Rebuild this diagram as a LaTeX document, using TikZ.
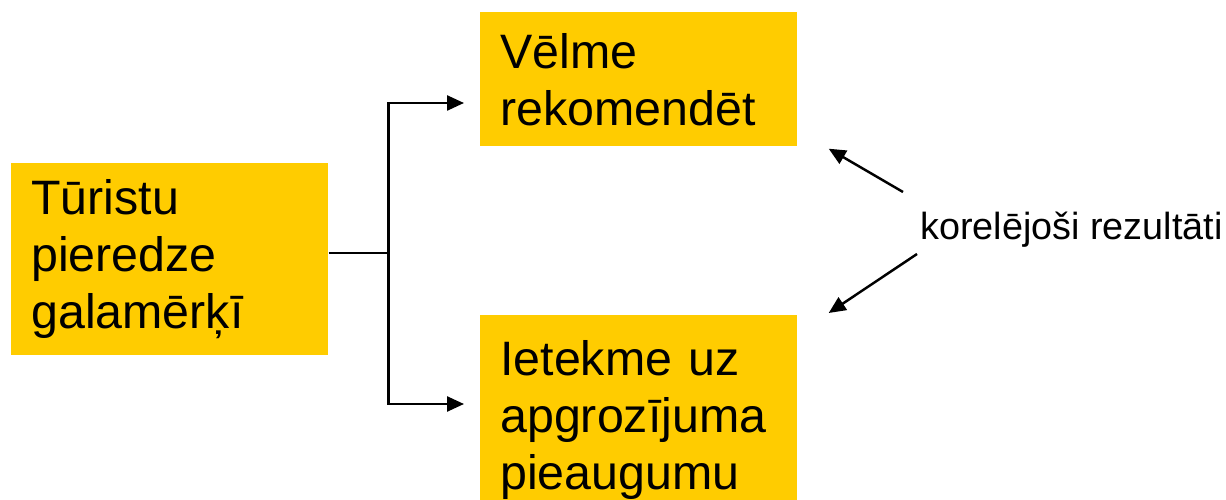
\documentclass[tikz,border=0pt]{standalone}
\usepackage{fontspec}
\setmainfont{Liberation Sans}
\usetikzlibrary{calc,positioning,arrows.meta}
\definecolor{boxyellow}{HTML}{FFCC00}
\tikzset{
  yellow box/.style={
    fill=boxyellow,
    draw=none,
    anchor=north west,
    inner xsep=0.4cm,
    inner ysep=0.3cm,
    text width=5.54cm,
    align=left,
    font=\fontsize{27.5}{32.4}\selectfont
  },
  link/.style={line width=1.4pt},
  link arrow/.style={line width=1.4pt,-{Triangle[length=0.34cm,width=0.3cm]}}
}

\begin{document}
\begin{tikzpicture}
  \useasboundingbox (0,0) rectangle (24.52,-10);

  \node (turisti) [yellow box,minimum height=3.84cm] at (0.22,-3.26) {T\=uristu\\pieredze\\galam\=er\c{k}\=\i};
  \node (velme) [yellow box,minimum height=2.68cm] at (9.6,-0.24) {V\=elme\\rekomend\=et};
  \node (ietekme) [yellow box,inner ysep=0.5cm] at (9.6,-6.3) {Ietekme uz\\apgroz\=\i juma\\pieaugumu};

  \node (korel) [anchor=west,inner sep=0pt,font=\fontsize{21.5}{24}\selectfont] at (18.4,-4.6) {korel\=ejo\v{s}i rezult\=ati};

  % fork from the left box
  \coordinate (out) at ($(turisti.north east)+(0,-1.8)$);
  \coordinate (fork) at ($(out)+(1.2,0)$);
  \coordinate (to_velme) at ($(velme.north west)+(-0.32,-1.82)$);
  \coordinate (to_ietekme) at ($(ietekme.north west)+(-0.32,-1.78)$);
  \draw[link] (out) -- (fork);
  \draw[link arrow] (fork) |- (to_velme);
  \draw[link arrow] (fork) |- (to_ietekme);

  % correlating results
  \coordinate (korel_up) at ($(korel.west)+(-0.34,0.76)$);
  \coordinate (korel_down) at ($(korel.west)+(-0.06,-0.48)$);
  \draw[link arrow] (korel_up) -- ($(velme.south east)+(0.62,-0.04)$);
  \draw[link arrow] (korel_down) -- ($(ietekme.north east)+(0.62,0.04)$);
\end{tikzpicture}
\end{document}
